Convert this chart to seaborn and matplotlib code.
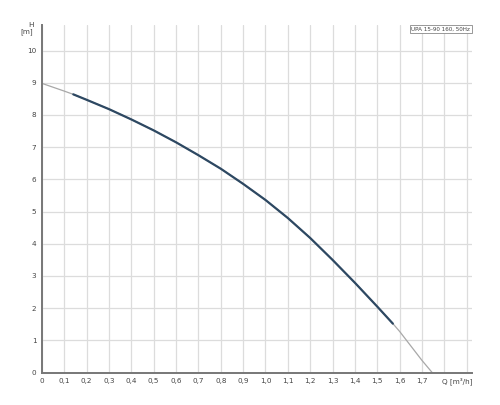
import numpy as np
import pandas as pd
import matplotlib
matplotlib.use("Agg")
import matplotlib.pyplot as plt
import seaborn as sns

# pump curve (Q in m3/h, H in m)
q_vals = [0.0, 0.1, 0.14, 0.2, 0.3, 0.4, 0.5, 0.6, 0.7, 0.8, 0.9, 1.0,
          1.1, 1.2, 1.3, 1.4, 1.5, 1.57, 1.6, 1.7, 1.746]
h_vals = [8.98, 8.74, 8.64, 8.47, 8.18, 7.86, 7.52, 7.15, 6.75, 6.33, 5.86, 5.36,
          4.80, 4.18, 3.50, 2.79, 2.05, 1.52, 1.28, 0.38, 0.0]
q_work_min = 0.14
q_work_max = 1.57
x_ticks = [0.0, 0.1, 0.2, 0.3, 0.4, 0.5, 0.6, 0.7, 0.8, 0.9, 1.0, 1.1,
           1.2, 1.3, 1.4, 1.5, 1.6, 1.7]
y_ticks = [0, 1, 2, 3, 4, 5, 6, 7, 8, 9, 10]
grid_x = x_ticks + [1.8, 1.9]
curve_name = "UPA 15-90 160, 50Hz"

df = pd.DataFrame({"Q": q_vals, "H": h_vals})
work = df[(df["Q"] >= q_work_min) & (df["Q"] <= q_work_max)]

sns.set_style("white")
plt.rcParams["font.family"] = ["DejaVu Sans"]

fig = plt.figure(figsize=(5, 4.05), dpi=100)
ax = fig.add_axes([0.084, 0.08, 0.86, 0.858])

# grid
for gx in grid_x:
    ax.axvline(gx, color="#dcdcdc", lw=0.9, zorder=0)
for gy in y_ticks:
    ax.axhline(gy, color="#dcdcdc", lw=0.9, zorder=0)

sns.lineplot(data=df, x="Q", y="H", ax=ax, color="#a8a8a8", lw=0.9, sort=False)
sns.lineplot(data=work, x="Q", y="H", ax=ax, color="#2d4862", lw=1.6, sort=False)

ax.set_xlim(0, 1.924)
ax.set_ylim(0, 10.79)
ax.set_xticks(x_ticks)
ax.set_xticklabels([f"{v:.1f}".replace(".", ",") if v != 0 else "0" for v in x_ticks])
ax.set_yticks(y_ticks)
ax.tick_params(axis="both", labelsize=5.2, colors="#666666", length=2.5, width=0.6,
               direction="out", pad=1.5)
ax.tick_params(axis="both", labelcolor="#444444")
ax.set_xlabel("")
ax.set_ylabel("")

for side in ["top", "right"]:
    ax.spines[side].set_visible(False)
for side in ["left", "bottom"]:
    ax.spines[side].set_color("#777777")
    ax.spines[side].set_linewidth(1.4)

ax.text(-0.02, 1.01, "H\n[m]", transform=ax.transAxes, ha="right", va="top",
        fontsize=5.2, color="#444444", linespacing=1.05)
ax.text(1.0, -0.012, "Q [m³/h]", transform=ax.transAxes, ha="right", va="top",
        fontsize=5.2, color="#444444")
ax.text(0.996, 0.995, curve_name, transform=ax.transAxes, ha="right", va="top",
        fontsize=4.1, color="#444444",
        bbox=dict(boxstyle="square,pad=0.25", fc="white", ec="#888888", lw=0.6))

fig.savefig("out.png", dpi=100)
